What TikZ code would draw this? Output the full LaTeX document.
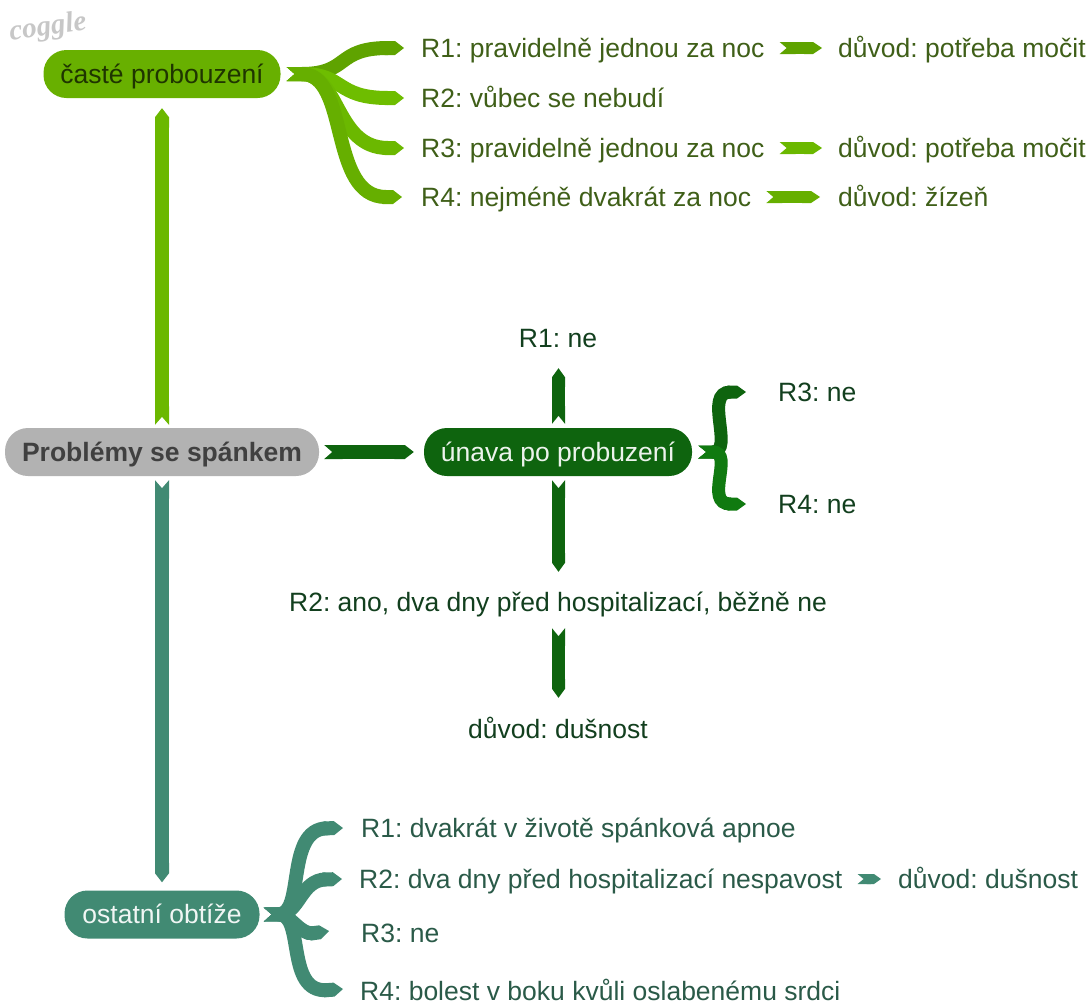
\documentclass[tikz,border=0pt]{standalone}
\usepackage{fontspec}
\setmainfont{Liberation Sans}
\newfontfamily\logofont{Liberation Serif}
\usetikzlibrary{arrows.meta}
\definecolor{cTop}{HTML}{68B000}
\definecolor{cTopA}{HTML}{5FA300}
\definecolor{cTopB}{HTML}{6EBD00}
\definecolor{cTopC}{HTML}{6BB800}
\definecolor{cTopD}{HTML}{66AF00}
\definecolor{cMid}{HTML}{0E640E}
\definecolor{cMidB}{HTML}{107A10}
\definecolor{cLow}{HTML}{418A73}
\definecolor{tTop}{HTML}{3F5F18}
\definecolor{tMid}{HTML}{123F1E}
\definecolor{tLow}{HTML}{2A5A48}
\frenchspacing
\tikzset{
  x=1pt,y=-1pt,
  pill/.style={rounded corners=23pt,minimum height=48pt,inner sep=0pt,text height=24pt,text depth=6pt,font=\fontsize{26.5}{30}\selectfont},
  lbl/.style={inner sep=0pt,text height=24pt,text depth=6pt,font=\fontsize{26.5}{30}\selectfont},
  ribbon/.style={line width=#1,{Triangle Cap[reversed,length=8pt]}-{Triangle Cap[length=9pt]}},
  ribbon/.default=13pt,
  tip/.style={line width=12pt,{Triangle Cap[reversed,length=7pt]}-{Triangle Cap[length=9pt]}},
}
\begin{document}
\begin{tikzpicture}
\useasboundingbox (0,0) rectangle (1091,1002);
\clip (0,0) rectangle (1091,1002);
\node[rotate=8,text=black!22,inner sep=0pt,font=\fontsize{29}{30}\selectfont\logofont\itshape\bfseries] (logo) at (48,28) {coggle};
% central nodes
\node[pill,fill=cTop,text=black!70!cTop,minimum width=237pt] (caste) at (162,74) {časté probouzení};
\node[pill,fill=black!30,text=black!75,minimum width=314pt,font=\fontsize{26.5}{30}\selectfont\bfseries] (root) at (162,452) {Problémy se spánkem};
\node[pill,fill=cMid,text=white!92!cMid,minimum width=268pt] (unava) at (558,452) {únava po probuzení};
\node[pill,fill=cLow,text=white!92!cLow,minimum width=195pt] (ostatni) at (162,914.5) {ostatní obtíže};
% top labels
\node[lbl,anchor=west,text=tTop] (ta) at (421,48) {R1: pravidelně jednou za noc};
\node[lbl,anchor=west,text=tTop] (tb) at (421,98) {R2: vůbec se nebudí};
\node[lbl,anchor=west,text=tTop] (tc) at (421,148) {R3: pravidelně jednou za noc};
\node[lbl,anchor=west,text=tTop] (td) at (421,197) {R4: nejméně dvakrát za noc};
\node[lbl,anchor=west,text=tTop] (tae) at (838,48) {důvod: potřeba močit};
\node[lbl,anchor=west,text=tTop] (tce) at (838,148) {důvod: potřeba močit};
\node[lbl,anchor=west,text=tTop] (tde) at (838,197) {důvod: žízeň};
% middle labels
\node[lbl,text=tMid] (ma) at (558,338) {R1: ne};
\node[lbl,anchor=west,text=tMid] (mc) at (778,392) {R3: ne};
\node[lbl,anchor=west,text=tMid] (md) at (778,504) {R4: ne};
\node[lbl,text=tMid] (mb) at (558,602) {R2: ano, dva dny před hospitalizací, běžně ne};
\node[lbl,text=tMid] (me) at (558,729) {důvod: dušnost};
% bottom labels
\node[lbl,anchor=west,text=tLow] (la) at (361,828) {R1: dvakrát v životě spánková apnoe};
\node[lbl,anchor=west,text=tLow] (lb) at (359,879) {R2: dva dny před hospitalizací nespavost};
\node[lbl,anchor=west,text=tLow] (lc) at (361,933) {R3: ne};
\node[lbl,anchor=west,text=tLow] (ld) at (360,991) {R4: bolest v boku kvůli oslabenému srdci};
\node[lbl,anchor=west,text=tLow] (lbe) at (898,879) {důvod: dušnost};
% straight connectors
\draw[ribbon=14pt,cTopC,shorten <=3pt,shorten >=10pt] (root.north) -- (caste.south);
\draw[ribbon=14pt,cLow,shorten <=4pt,shorten >=8pt] (root.south) -- (ostatni.north);
\draw[ribbon=14pt,cMid,shorten <=5pt,shorten >=10pt] (root.east) -- (unava.west);
\draw[ribbon=13pt,cMid,shorten <=4pt,shorten >=15pt] ([xshift=.5pt]unava.north) -- ([xshift=.5pt]ma.south);
\draw[ribbon=13pt,cMid,shorten <=4pt,shorten >=15pt] ([xshift=.5pt]unava.south) -- ([xshift=.5pt]mb.north);
\draw[ribbon=13pt,cMid,shorten <=11pt,shorten >=16pt] ([xshift=.5pt]mb.south) -- ([xshift=.5pt]me.north);
% small connectors
\draw[tip,cTopA] ([xshift=15pt]ta.east) -- ([xshift=-16pt]tae.west);
\draw[tip,cTopC] ([xshift=15pt]tc.east) -- ([xshift=-16pt]tce.west);
\draw[tip,cTopD] ([xshift=15pt]td.east) -- ([xshift=-18pt]tde.west);
\draw[line width=10pt,cLow,{Triangle Cap[reversed,length=6pt]}-{Triangle Cap[length=7pt]}] ([xshift=15pt]lb.east) -- ([xshift=-17pt]lbe.west);
% top fan
\draw[ribbon=14pt,cTopA] ([xshift=6pt]caste.east) .. controls (350,74) and (335,48) .. ([xshift=-17pt]ta.west);
\draw[ribbon=14pt,cTopB] ([xshift=6pt]caste.east) .. controls (345,74) and (335,98) .. ([xshift=-17pt]tb.west);
\draw[ribbon=14pt,cTopC] ([xshift=6pt]caste.east) .. controls (340,74) and (335,148) .. ([xshift=-17pt]tc.west);
\draw[ribbon=14pt,cTopD] ([xshift=6pt]caste.east) .. controls (350,74) and (328,197) .. ([xshift=-19pt]td.west);
% middle brace
\draw[ribbon=13pt,cMid] ([xshift=6pt]unava.east) .. controls (735,452) and (703,392) .. ([xshift=-32pt]mc.west);
\draw[ribbon=13pt,cMidB] ([xshift=6pt]unava.east) .. controls (735,452) and (703,504) .. ([xshift=-32pt]md.west);
% bottom fan
\draw[ribbon=14pt,cLow] ([xshift=4pt]ostatni.east) .. controls (305,914) and (285,829) .. ([xshift=-18pt]la.west);
\draw[ribbon=14pt,cLow] ([xshift=4pt]ostatni.east) .. controls (300,914) and (300,880) .. ([xshift=-17pt]lb.west);
\draw[ribbon=14pt,cLow] ([xshift=4pt]ostatni.east) .. controls (290,914) and (300,935) .. ([xshift=-32pt,yshift=2pt]lc.west);
\draw[ribbon=14pt,cLow] ([xshift=4pt]ostatni.east) .. controls (305,914) and (285,993) .. ([xshift=-17pt,yshift=2pt]ld.west);
\end{tikzpicture}
\end{document}
